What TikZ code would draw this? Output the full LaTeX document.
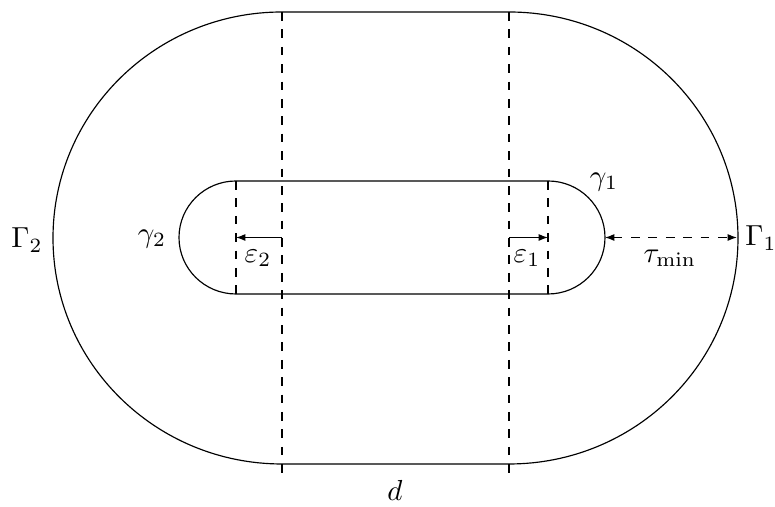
\documentclass[tikz,border=0pt]{standalone}
\usetikzlibrary{arrows.meta}
\begin{document}
\begin{tikzpicture}[x=0.345pt,y=0.345pt,line width=0.4pt,
  guide/.style={dashed},
  tip/.style={-{Latex[length=3.2pt,width=2.4pt]}},
  lab/.style={inner sep=0pt}]
\useasboundingbox (0,0) rectangle (775,507);
% outer stadium
\draw (282,495) -- (509,495) arc[start angle=90,end angle=-90,x radius=229,y radius=226]
  -- (282,43) arc[start angle=270,end angle=90,x radius=229,y radius=226] -- cycle;
% inner stadium
\draw (236,326) -- (548,326) arc[start angle=90,end angle=-90,x radius=57,y radius=56.5]
  -- (236,213) arc[start angle=270,end angle=90,x radius=57,y radius=56.5] -- cycle;
% coordinates
\coordinate (oT1) at (282,495); \coordinate (oB1) at (282,32);
\coordinate (oT2) at (509,495); \coordinate (oB2) at (509,32);
\coordinate (iT1) at (236,326); \coordinate (iB1) at (236,213);
\coordinate (iT2) at (548,326); \coordinate (iB2) at (548,213);
\coordinate (a1) at (282,269.5); \coordinate (a2) at (236,269.5);
\coordinate (b1) at (509,269.5); \coordinate (b2) at (548,269.5);
\coordinate (c1) at (605,269.5); \coordinate (c2) at (737,269.5);
% dashed guides
\draw[guide] (oT1) -- (oB1);
\draw[guide] (oT2) -- (oB2);
\draw[guide] (iT1) -- (iB1);
\draw[guide] (iT2) -- (iB2);
% arrows
\draw[tip] (a1) -- (a2);
\draw[tip] (b1) -- (b2);
\draw[guide,{Latex[length=3.2pt,width=2.4pt]}-{Latex[length=3.2pt,width=2.4pt]}] (c1) -- (c2);
% labels
\node[lab] (G2) at (27,267) {$\Gamma_2$};
\node[lab] (G1) at (761,269) {$\Gamma_1$};
\node[lab] (g2) at (152,268) {$\gamma_2$};
\node[lab] (g1) at (604,325) {$\gamma_1$};
\node[lab] (tau) at (670,249) {$\tau_{\min}$};
\node[lab] (e2) at (258,249) {$\varepsilon_2$};
\node[lab] (e1) at (527,249) {$\varepsilon_1$};
\node[lab] (d) at (395,17) {$d$};
\end{tikzpicture}
\end{document}
